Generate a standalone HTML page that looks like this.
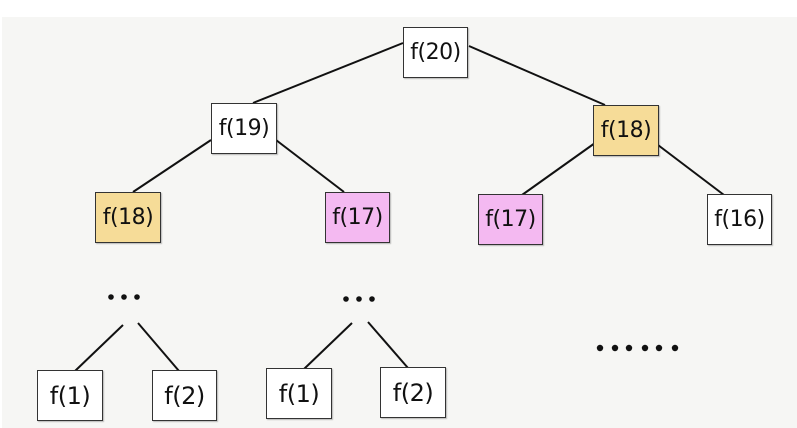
<!DOCTYPE html>
<html><head><meta charset="utf-8"><style>
html,body{margin:0;padding:0;}
body{width:797px;height:428px;background:#fff;position:relative;overflow:hidden;font-family:"DejaVu Sans","Liberation Sans",sans-serif;}
.bg{position:absolute;left:2px;top:17px;width:795px;height:411px;background:#f6f6f4;}
.b{position:absolute;box-sizing:border-box;border:1.5px solid #333;background:#fff;font-size:22px;color:#111;display:flex;align-items:center;justify-content:center;box-shadow:1px 1px 1px rgba(0,0,0,0.25);letter-spacing:-0.5px;}
.s{font-size:24px;}
.y{background:#f6dc98;}
.p{background:#f4b9f1;}
svg{position:absolute;left:0;top:0;}
</style></head><body>
<div class="bg"></div>
<svg width="797" height="428">
<g stroke="#111" stroke-width="2" fill="none">
<line x1="403" y1="43" x2="253" y2="103"/>
<line x1="469" y1="46" x2="605" y2="105"/>
<line x1="211" y1="140" x2="133" y2="192"/>
<line x1="276" y1="140" x2="344" y2="192"/>
<line x1="595" y1="143" x2="522" y2="195"/>
<line x1="658" y1="145" x2="724" y2="195"/>
<line x1="123" y1="325" x2="75" y2="371"/>
<line x1="138" y1="323" x2="179" y2="371"/>
<line x1="352" y1="323" x2="304" y2="369"/>
<line x1="368" y1="322" x2="408" y2="368"/>
</g>
<g fill="#111">
<circle cx="111" cy="297" r="2.8"/><circle cx="124" cy="297" r="2.8"/><circle cx="137" cy="297" r="2.8"/>
<circle cx="346" cy="299" r="2.8"/><circle cx="359" cy="299" r="2.8"/><circle cx="372" cy="299" r="2.8"/>
<circle cx="600" cy="348" r="3.2"/><circle cx="615" cy="348" r="3.2"/><circle cx="629" cy="348" r="3.2"/><circle cx="645" cy="348" r="3.2"/><circle cx="659" cy="348" r="3.2"/><circle cx="675" cy="348" r="3.2"/>
</g>
</svg>
<div class="b" style="left:403px;top:27px;width:65px;height:51px;">f(20)</div>
<div class="b" style="left:211px;top:103px;width:66px;height:51px;">f(19)</div>
<div class="b y" style="left:593px;top:105px;width:66px;height:51px;">f(18)</div>
<div class="b y" style="left:95px;top:192px;width:66px;height:51px;">f(18)</div>
<div class="b p" style="left:325px;top:192px;width:65px;height:51px;">f(17)</div>
<div class="b p" style="left:478px;top:194px;width:65px;height:51px;">f(17)</div>
<div class="b" style="left:707px;top:194px;width:65px;height:51px;">f(16)</div>
<div class="b s" style="left:37px;top:370px;width:66px;height:51px;">f(1)</div>
<div class="b s" style="left:152px;top:370px;width:65px;height:51px;">f(2)</div>
<div class="b s" style="left:266px;top:368px;width:66px;height:51px;">f(1)</div>
<div class="b s" style="left:380px;top:367px;width:66px;height:51px;">f(2)</div>
</body></html>
